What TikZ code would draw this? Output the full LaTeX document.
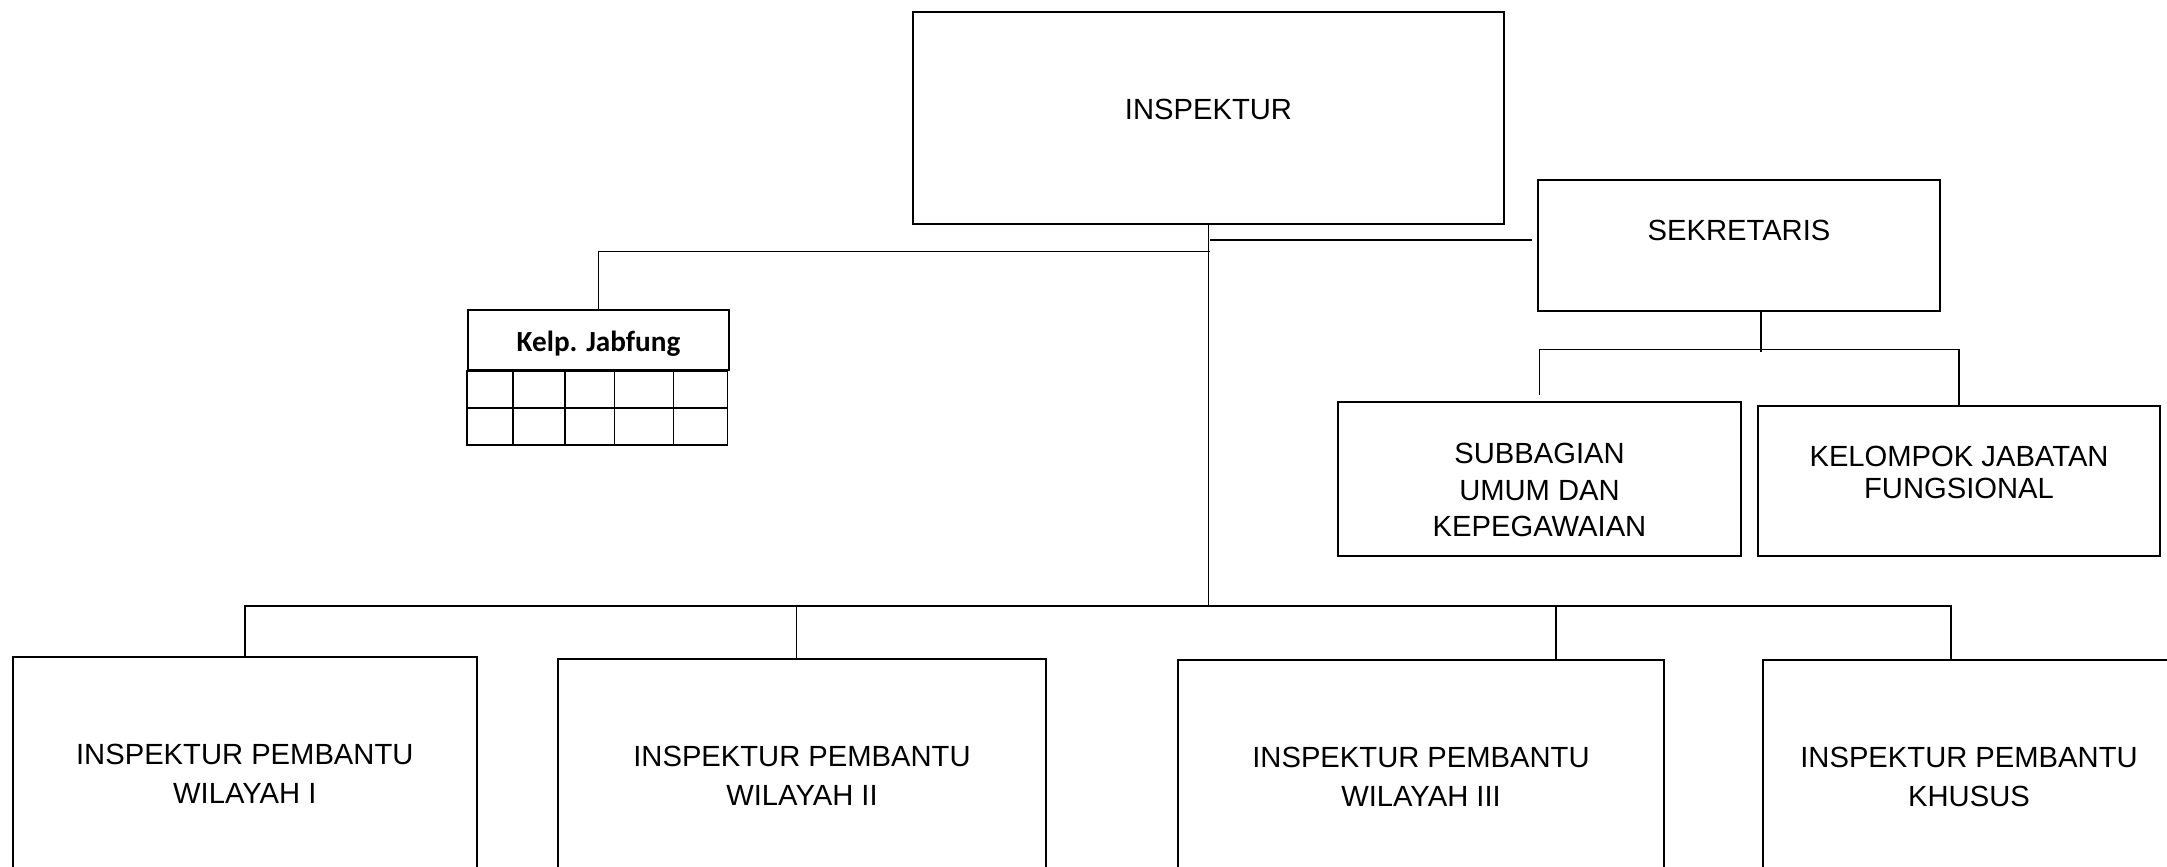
\documentclass[tikz,border=0pt]{standalone}
\usepackage{fontspec}
\setmainfont{Liberation Sans}
\newfontfamily\calibri{Carlito}
\usetikzlibrary{positioning}

\tikzset{
    box/.style={draw, line width=0.55pt, inner sep=0pt},
    txt/.style={font=\fontsize{8.3}{11}\selectfont, align=center},
    link/.style={line width=0.4pt},
}

\begin{document}
\begin{tikzpicture}[x=0.01cm, y=-0.01cm]
    \useasboundingbox (0,0) rectangle (2167,867);
    % Define boxes
    \node[box, minimum width=5.91cm, minimum height=2.12cm,
        label={[txt, yshift=0.09cm]center:INSPEKTUR}] (insp) at (1208.5,118) {};
    \node[box, minimum width=4.02cm, minimum height=1.31cm,
        label={[txt, yshift=0.155cm]center:SEKRETARIS}] (sekr) at (1739,245.5) {};
    \node[box, minimum width=4.03cm, minimum height=1.54cm,
        label={[txt, font=\fontsize{8.3}{10.4}\selectfont, yshift=-0.11cm]center:SUBBAGIAN\\UMUM DAN\\KEPEGAWAIAN}] (subbag) at (1539.5,479) {};
    \node[box, minimum width=4.02cm, minimum height=1.50cm,
        label={[txt, font=\fontsize{8.3}{9}\selectfont, yshift=0.085cm]center:KELOMPOK JABATAN\\FUNGSIONAL}] (kjf) at (1959,481) {};
    \node[box, minimum width=2.60cm, minimum height=0.60cm,
        label={[font=\calibri\bfseries\fontsize{8.3}{10}\selectfont, yshift=-0.035cm]center:Kelp. Jabfung}] (jabfung) at (598.5,340) {};
    \node[box, minimum width=4.64cm, minimum height=2.34cm,
        label={[txt]center:INSPEKTUR PEMBANTU\\WILAYAH I}] (irban1) at (244.8,774) {};
    \node[box, minimum width=4.87cm, minimum height=2.34cm,
        label={[txt]center:INSPEKTUR PEMBANTU\\WILAYAH II}] (irban2) at (802,776) {};
    \node[box, minimum width=4.86cm, minimum height=2.34cm,
        label={[txt]center:INSPEKTUR PEMBANTU\\WILAYAH III}] (irban3) at (1421,777) {};
    \node[box, minimum width=4.11cm, minimum height=2.34cm,
        label={[txt]center:INSPEKTUR PEMBANTU\\KHUSUS}] (irbansus) at (1969,777) {};

    % grid under Kelp. Jabfung
    \draw[box] (jabfung.south west) rectangle ++(260,74);
    \draw[box] (jabfung.south west) ++(0,37) -- ++(260,0);
    \foreach \cx in {46,98,147,206}
        \draw[box] (jabfung.south west) ++(\cx,0) -- ++(0,74);

    % Define connections
    \coordinate (jbf) at (1210,251.5);
    \coordinate (sek) at (1210,240);
    \coordinate (bar) at (1210,606);
    \coordinate (subbar) at (1761,349.5);
    \draw[link] (insp.south) -- (insp.south |- bar);
    \draw[link] (jbf) -| (jabfung.north);
    \draw[link, shorten >=0.05cm] (sek) -- (sek -| sekr.west);
    \draw[link] (sekr.south -| subbar) -- ([yshift=-0.02cm]subbar);
    \draw[link, shorten <=0.06cm] (subbag.north) -- (subbag.north |- subbar)
        -- (kjf.north |- subbar) -- (kjf.north);
    \draw[link] (irban1.north) -- (irban1.north |- bar)
        -- ([xshift=-0.18cm]irbansus.north |- bar) -- ([xshift=-0.18cm]irbansus.north);
    \draw[link] ([xshift=-0.055cm]irban2.north) -- ([xshift=-0.055cm]irban2.north |- bar);
    \draw[link] ([xshift=1.35cm]irban3.north) -- ([xshift=1.35cm]irban3.north |- bar);
\end{tikzpicture}
\end{document}
